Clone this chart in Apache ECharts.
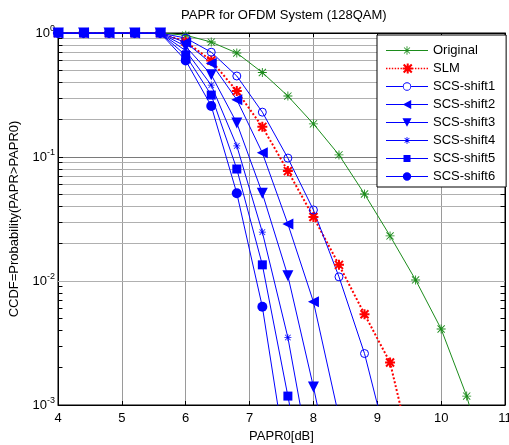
<!DOCTYPE html>
<html>
<head>
<meta charset="utf-8">
<script src="https://cdn.jsdelivr.net/npm/echarts@6/dist/echarts.min.js"></script>
<style>
html, body { margin: 0; padding: 0; background: #fff; }
#chart_papr { width: 509px; height: 445px; }
</style>
</head>
<body>
<div id="chart_papr"></div>
<script>
// PAPR0 [dB] sample points
var papr0 = [4, 4.4, 4.8, 5.2, 5.6, 6, 6.4, 6.8, 7.2, 7.6, 8, 8.4, 8.8, 9.2, 9.6, 10, 10.4, 10.8];

// CCDF values (null = not plotted)
var ccdfOriginal = [1, 1, 1, 1, 1, 0.96, 0.845, 0.69, 0.48, 0.31, 0.185, 0.104, 0.0503, 0.0231, 0.0102, 0.0041, 0.00118, 0.00022];
var ccdfSLM = [1, 1, 1, 1, 1, 0.85, 0.6, 0.34, 0.175, 0.077, 0.0328, 0.0135, 0.0054, 0.0022, 0.0003];
var ccdfShift1 = [1, 1, 1, 1, 1, 0.91, 0.7, 0.45, 0.23, 0.098, 0.0374, 0.0108, 0.0026, 0.0004];
var ccdfShift2 = [1, 1, 1, 1, 1, 0.84, 0.57, 0.29, 0.108, 0.0288, 0.0068, 0.0008];
var ccdfShift3 = [1, 1, 1, 1, 1, 0.78, 0.46, 0.188, 0.051, 0.011, 0.0014, 0.00015];
var ccdfShift4 = [1, 1, 1, 1, 1, 0.72, 0.38, 0.123, 0.0248, 0.0035, 0.00026];
var ccdfShift5 = [1, 1, 1, 1, 1, 0.66, 0.316, 0.08, 0.0135, 0.00118, 0.0001];
var ccdfShift6 = [1, 1, 1, 1, 1, 0.6, 0.258, 0.051, 0.0062, 0.0003];

var legendNames = ['Original', 'SLM', 'SCS-shift1', 'SCS-shift2', 'SCS-shift3', 'SCS-shift4', 'SCS-shift5', 'SCS-shift6'];

// log minor grid values
var minorValues = [];
[0.001, 0.01, 0.1].forEach(function (d) {
    for (var k = 2; k <= 9; k++) minorValues.push(+(d * k).toPrecision(3));
});

var fontName = 'Liberation Sans, Arial, sans-serif';
var asterisk = 'path://M9 0H11V20H9Z M0 9H20V11H0Z M1.3 2.7L2.7 1.3L18.7 17.3L17.3 18.7Z M17.3 1.3L18.7 2.7L2.7 18.7L1.3 17.3Z';
var fatStar = 'path://M8 0H12V20H8Z M0 8H20V12H0Z M0.6 3.4L3.4 0.6L19.4 16.6L16.6 19.4Z M16.6 0.6L19.4 3.4L3.4 19.4L0.6 16.6Z';

// legend icons: line sample + marker, in a 60x20 box
var bar = 'M0 9.3H60V10.7H0Z ';
var dots = '';
for (var d = 0; d < 60; d += 4) dots += 'M' + d + ' 9H' + (d + 2) + 'V11H' + d + 'Z ';
var legendIcons = {
    'Original': 'path://' + bar + 'M29.4 4H30.6V16H29.4Z M25.4 6.2L26.2 5.4L34.6 13.8L33.8 14.6Z M33.8 5.4L34.6 6.2L26.2 14.6L25.4 13.8Z',
    'SLM': 'path://' + dots + 'M28.6 3H31.4V17H28.6Z M23 8.6H37V11.4H23Z M23.4 5.4L25.4 3.4L36.6 14.6L34.6 16.6Z M34.6 3.4L36.6 5.4L25.4 16.6L23.4 14.6Z',
    'SCS-shift1': 'path://M0 9.3H24V10.7H0Z M36 9.3H60V10.7H36Z M24 10A6 6 0 1 1 36 10A6 6 0 1 1 24 10Z M25.2 10A4.8 4.8 0 1 0 34.8 10A4.8 4.8 0 1 0 25.2 10Z',
    'SCS-shift2': 'path://' + bar + 'M24 10L36 3.5L36 16.5Z',
    'SCS-shift3': 'path://' + bar + 'M23.5 4H36.5L30 16Z',
    'SCS-shift4': 'path://' + bar + 'M29.4 5H30.6V15H29.4Z M26.2 6.8L27 6L33.8 12.8L33 13.6Z M33 6L33.8 6.8L27 13.6L26.2 12.8Z',
    'SCS-shift5': 'path://' + bar + 'M25 5H35V15H25Z',
    'SCS-shift6': 'path://' + bar + 'M24 10A6 6 0 1 1 36 10A6 6 0 1 1 24 10Z'
};
var legendColors = ['#1c8c1c', '#ff0000', '#0000ff', '#0000ff', '#0000ff', '#0000ff', '#0000ff', '#0000ff'];

function toPairs(ys) {
    var out = [];
    for (var i = 0; i < ys.length; i++) {
        if (ys[i] != null) out.push([papr0[i], ys[i]]);
    }
    return out;
}

function curve(name, ys, color, symbol, size, extra) {
    var s = {
        name: name,
        type: 'line',
        data: toPairs(ys),
        symbol: symbol,
        symbolSize: size,
        clip: true,
        z: 3,
        lineStyle: { color: color, width: 1 },
        itemStyle: { color: color }
    };
    if (extra) {
        for (var k in extra) s[k] = extra[k];
    }
    return s;
}

// minor grid + minor ticks drawn through the axes via markLine
var minorLines = [];
minorValues.forEach(function (v) {
    minorLines.push({ yAxis: v, lineStyle: { color: '#b0b0b0', width: 1, type: 'solid' } });
    minorLines.push([{ coord: [4, v] }, { coord: [4.07, v], lineStyle: { color: '#000', width: 1, type: 'solid' } }]);
    minorLines.push([{ coord: [10.93, v] }, { coord: [11, v], lineStyle: { color: '#000', width: 1, type: 'solid' } }]);
});

var legendData = legendNames.map(function (n, i) {
    return {
        name: n,
        icon: legendIcons[n],
        itemStyle: { color: legendColors[i], borderWidth: 0 }
    };
});

var chart_papr = echarts.init(document.getElementById('chart_papr'));

var chart_papr_option = {
    animation: false,
    backgroundColor: '#fff',
    textStyle: { fontFamily: fontName },
    title: {
        text: 'PAPR for OFDM System (128QAM)',
        left: 176,
        top: 4,
        textStyle: { fontSize: 13, fontWeight: 'normal', color: '#000', fontFamily: fontName }
    },
    legend: {
        data: legendData,
        z: 20,
        orient: 'vertical',
        left: 377,
        top: 35,
        padding: [9, 11, 4, 9],
        itemGap: 5,
        itemWidth: 42,
        itemHeight: 14,
        symbolKeepAspect: true,
        backgroundColor: '#fff',
        borderColor: '#000',
        borderWidth: 1,
        borderRadius: 0,
        textStyle: { fontSize: 13, color: '#000', fontFamily: fontName }
    },
    grid: {
        left: 58,
        top: 33,
        right: 4,
        bottom: 40,
        outerBoundsMode: 'none',
        show: true,
        borderColor: '#000',
        borderWidth: 1,
        backgroundColor: '#fff'
    },
    xAxis: [{
        type: 'value',
        min: 4,
        max: 11,
        interval: 1,
        name: 'PAPR0[dB]',
        nameLocation: 'middle',
        nameGap: 24,
        nameTextStyle: { fontSize: 13, color: '#000', fontFamily: fontName },
        axisLine: { lineStyle: { color: '#000', width: 1 } },
        axisTick: { inside: true, length: 4, lineStyle: { color: '#000' } },
        axisLabel: { fontSize: 13, color: '#000', margin: 7, fontFamily: fontName },
        splitLine: { show: true, lineStyle: { color: '#9a9a9a', width: 1 } }
    }, {
        type: 'value',
        position: 'top',
        min: 4,
        max: 11,
        interval: 1,
        axisLine: { lineStyle: { color: '#000', width: 1 } },
        axisTick: { inside: true, length: 4, lineStyle: { color: '#000' } },
        axisLabel: { show: false },
        splitLine: { show: false }
    }],
    yAxis: [{
        type: 'log',
        logBase: 10,
        min: 0.001,
        max: 1,
        name: 'CCDF=Probability(PAPR>PAPR0)',
        nameLocation: 'middle',
        nameGap: 37,
        nameTextStyle: { fontSize: 13, color: '#000', fontFamily: fontName },
        axisLine: { lineStyle: { color: '#000', width: 1 } },
        axisTick: { inside: true, length: 5, lineStyle: { color: '#000' } },
        axisLabel: {
            margin: 3,
            formatter: function (v) {
                var e = Math.round(Math.log(v) / Math.LN10);
                return '{b|10}{s|' + e + '}';
            },
            rich: {
                b: { fontSize: 13, color: '#000', fontFamily: fontName },
                s: { fontSize: 9, color: '#000', fontFamily: fontName, padding: [0, 0, 9, 0] }
            }
        },
        splitLine: { show: true, lineStyle: { color: '#7a7a7a', width: 1 } }
    }, {
        type: 'log',
        logBase: 10,
        min: 0.001,
        max: 1,
        position: 'right',
        axisLine: { lineStyle: { color: '#000', width: 1 } },
        axisTick: { inside: true, length: 5, lineStyle: { color: '#000' } },
        axisLabel: { show: false },
        splitLine: { show: false }
    }],
    series: [
        {
            name: 'grid',
            type: 'line',
            data: [],
            z: 1,
            silent: true,
            markLine: {
                z: 1,
                silent: true,
                symbol: ['none', 'none'],
                label: { show: false },
                lineStyle: { color: '#b0b0b0', width: 1, type: 'solid' },
                data: minorLines
            }
        },
        curve('Original', ccdfOriginal, '#1c8c1c', asterisk, 9),
        curve('SLM', ccdfSLM, '#ff0000', fatStar, 10, {
            lineStyle: { color: '#ff0000', width: 2, type: [2, 2] }
        }),
        curve('SCS-shift1', ccdfShift1, '#0000ff', 'circle', 8, {
            itemStyle: { color: 'rgba(0,0,0,0)', borderColor: '#0000ff', borderWidth: 1 }
        }),
        curve('SCS-shift2', ccdfShift2, '#0000ff', 'triangle', 11, { symbolRotate: 90 }),
        curve('SCS-shift3', ccdfShift3, '#0000ff', 'triangle', 11, { symbolRotate: 180 }),
        curve('SCS-shift4', ccdfShift4, '#0000ff', asterisk, 7),
        curve('SCS-shift5', ccdfShift5, '#0000ff', 'rect', 9),
        curve('SCS-shift6', ccdfShift6, '#0000ff', 'circle', 10)
    ]
};

chart_papr.setOption(chart_papr_option);
</script>
</body>
</html>
